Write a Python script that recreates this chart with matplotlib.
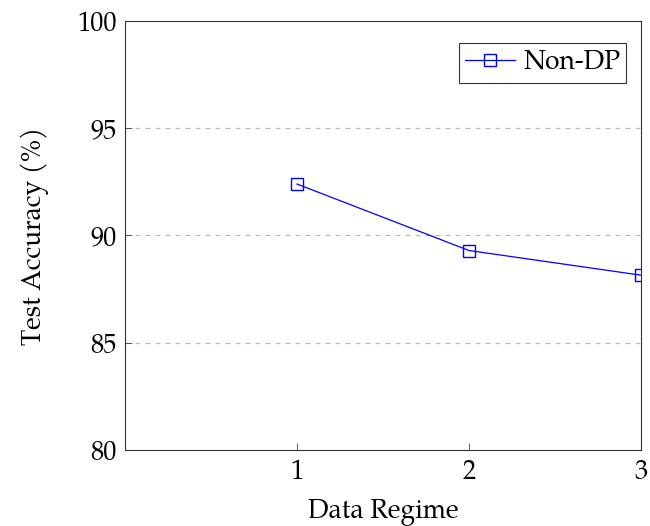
import matplotlib
matplotlib.use("Agg")
import matplotlib.pyplot as plt

regimes = [1, 2, 3]
non_dp = [92.4, 89.3, 88.15]
xticks = [1, 2, 3]
yticks = [80, 85, 90, 95, 100]

plt.rcParams['font.family'] = ['TeX Gyre Pagella', 'Palatino', 'Liberation Serif', 'DejaVu Serif']
plt.rcParams['mathtext.fontset'] = 'stix'

fig = plt.figure(figsize=(6.5, 5.26), dpi=100)
ax = fig.add_axes([125/650, 1-450/526, (641-125)/650, (450-21)/526])

ax.plot(regimes, non_dp, color='blue', linewidth=0.9, marker='s', markersize=8.5,
        markerfacecolor='none', markeredgecolor='blue', markeredgewidth=1.0, label='Non-DP')

FS = 19
ax.set_xlim(0, 3)
ax.set_ylim(80, 100)
ax.set_xticks(xticks)
ax.set_yticks(yticks)
ax.tick_params(direction='in', labelsize=FS, length=5, width=0.6, colors='#444444', labelcolor='black')
ax.tick_params(axis='x', pad=6)
ax.tick_params(axis='y', pad=6)
ax.tick_params(top=False, right=False)
for y in [85, 90, 95]:
    ax.axhline(y, color='#bbbbbb', linestyle=(0, (4, 4)), linewidth=0.9, zorder=0)
for s in ax.spines.values():
    s.set_linewidth(0.8)
    s.set_color('#333333')

ax.set_xlabel('Data Regime', fontsize=FS, labelpad=8)
ax.set_ylabel('Test Accuracy (%)', fontsize=FS, labelpad=20)

leg = ax.legend(loc='upper right', fontsize=FS, fancybox=False, edgecolor='#333333',
                framealpha=1, handlelength=1.9, borderpad=0.22, handletextpad=0.3,
                borderaxespad=0, bbox_to_anchor=(0.971, 0.949))
leg.get_frame().set_linewidth(0.8)

fig.savefig('out.png', dpi=100)
